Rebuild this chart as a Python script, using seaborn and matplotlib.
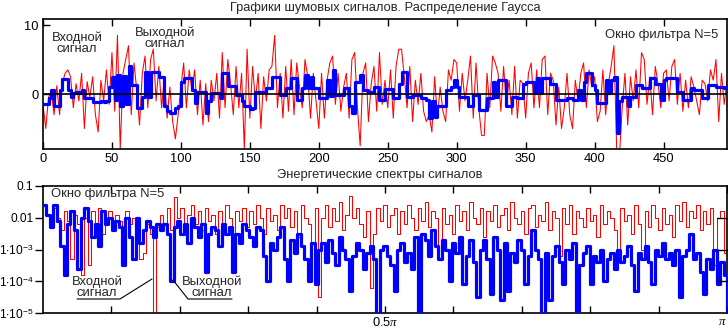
import numpy as np
import matplotlib
matplotlib.use("Agg")
import matplotlib.pyplot as plt
import seaborn as sns
from matplotlib.lines import Line2D
from matplotlib.ticker import NullLocator

# ---------------- data ----------------
# top panel: noisy input signal, one value per 2 samples
input_signal = [
    -1.5, -5.0, -0.5, 0.5, -3.0, 1.2, -3.0, 1.5, 3.0, 3.5,
    2.5, -2.0, 1.5, -1.0, 3.0, -5.0, 1.8, -0.5, 2.5, -3.0,
    -5.5, 2.0, -1.0, 3.5, -1.5, 6.0, -2.5, 8.5, -8.0, 3.0,
    5.0, 7.0, -3.0, 4.5, 0.5, -4.5, 3.0, 5.5, -2.0, 5.0,
    6.5, -1.0, 4.0, -2.0, 2.5, -3.5, 1.0, -4.0, -6.5, -3.0,
    1.0, 4.5, -2.0, 3.5, 0.5, 3.5, -3.0, 2.0, -4.5, 1.5,
    -4.0, 2.0, -1.0, 3.0, -3.5, 6.0, -2.0, 5.0, 1.5, -3.0,
    4.0, -2.0, 3.0, -8.0, 6.5, -3.5, 4.0, -1.0, 3.0, -5.0,
    2.5, -1.0, 3.5, 4.0, 8.5, -2.0, 3.0, -3.5, 4.0, -2.5,
    5.0, -3.0, 4.5, 1.0, -2.0, 5.0, 2.5, -3.5, 3.0, -1.0,
    -5.0, 3.0, -3.5, 2.0, 4.5, 5.5, -1.5, 3.0, -2.5, 1.0,
    3.0, -3.5, 5.0, 6.0, -2.0, -7.5, 3.0, 4.5, -4.0, 1.5,
    4.0, -2.5, 6.0, -1.5, 2.0, -2.0, 3.5, -3.5, 4.0, 6.5,
    6.5, 2.5, -2.0, 4.0, -4.0, 2.0, -1.5, 3.0, -2.5, -4.0,
    -3.0, -5.5, 2.5, -3.5, 1.0, -2.5, -4.0, 3.5, 2.0, 5.0,
    4.5, -2.5, 3.0, -1.0, 2.0, 5.5, -3.5, 4.5, -2.0, -6.0,
    -6.0, 3.0, -2.0, 5.5, 4.5, 3.0, -2.5, 4.0, -1.5, 2.0,
    -3.0, 4.0, -3.5, 2.0, 1.5, -3.5, 3.0, 4.5, -2.0, 3.5,
    -2.0, 5.0, 5.5, -3.0, 3.0, 2.0, -4.5, 1.0, -5.0, -2.0,
    3.0, -3.0, -5.0, 2.0, -1.0, 3.0, 4.5, -2.0, 3.5, 1.0,
    2.5, -4.0, -2.5, 3.5, -3.0, 1.5, 4.0, 7.0, -8.0, -9.0,
    -2.0, 3.0, -4.5, 2.5, -1.0, 3.5, -2.0, 6.0, 5.0, -1.5,
    2.5, -3.0, 4.0, 1.5, -2.0, 3.0, 3.5, -1.0, 4.0, 5.0,
    -1.5, 3.0, -2.5, 2.0, -2.0, 2.5, 1.0, -1.0, -3.0, 2.0,
    1.5, -1.0, 3.5, 2.0, 5.0, -4.0, 3.0, -1.5, 2.0, 1.0,
]
# top panel: filtered output signal, one value per 2 samples
output_signal = [
    -1.4, -1.4, -0.6, 0.6, -1.7, -1.7, 0.6, 2.2, 2.2, 0.6,
    -0.4, 0.2, 0.3, 0.2, 0.6, -0.6, -0.6, -0.6, -1.1, -1.2,
    -1.1, -1.0, -1.1, -1.0, 1.0, 2.5, -0.9, 2.7, -1.8, 2.6,
    -1.5, 4.0, 1.3, 1.3, -2.1, -2.1, -0.4, 3.2, -0.4, 3.2,
    3.2, 3.2, 2.4, 2.4, -1.8, -2.5, -2.8, -2.8, -2.0, -1.8,
    1.8, 2.3, 2.3, 2.3, 0.6, -1.35, 0.3, 0.3, 0.3, -2.8,
    -1.0, 0.1, 0.1, 0.1, -0.6, 3.0, 3.0, 1.1, 1.1, 1.1,
    -0.15, -0.15, -1.0, -1.8, -1.8, -2.2, -2.0, 0.3, 0.3, 0.3,
    0.3, 0.8, 0.8, 2.5, 2.5, 2.5, -0.15, -0.15, 0.8, 0.8,
    2.3, 2.3, -0.9, -0.9, 0.8, 2.7, 0.8, 2.5, 0.8, 0.8,
    -0.6, -0.6, -0.6, 2.0, -0.3, 3.5, -0.15, -0.15, -0.15, 0.8,
    0.8, -1.8, -2.8, 1.8, 1.8, 2.7, 0.6, 0.6, 0.3, 0.3,
    1.0, 1.0, -0.9, -0.9, 0.7, 0.7, 0.7, -0.6, -0.6, 1.5,
    3.2, 3.2, -0.4, -0.4, -0.15, -0.15, -0.15, -0.6, -0.6, -0.9,
    -3.5, -1.0, -3.3, -1.8, -1.8, -1.8, 0.6, 0.6, 1.0, 2.0,
    1.0, -0.4, -0.4, -0.4, -1.8, -1.8, -0.15, -0.15, -2.3, -2.3,
    -2.3, -0.6, -0.6, 1.8, -0.4, 2.0, 2.0, 2.0, -1.8, -1.8,
    -0.4, -0.4, -0.6, -0.6, 1.5, 1.8, 1.8, 1.8, 0.1, 2.3,
    0.1, 2.3, 2.3, 2.3, 1.5, 1.5, -0.9, -0.9, -0.9, -0.9,
    -0.6, -0.6, -0.9, -0.9, 0.6, -0.9, 1.8, 3.0, 3.0, 1.3,
    0.6, -1.35, -1.35, -1.35, 2.0, 0.1, 2.0, 2.5, -5.7, -1.0,
    -0.4, -0.4, -1.8, -0.4, -0.4, 1.3, 1.3, 0.8, 0.8, 0.8,
    2.3, 2.3, 1.5, 1.5, -0.9, 2.0, 2.3, 2.3, 2.3, 2.3,
    0.3, 0.3, -0.9, -0.9, -0.9, 0.8, 0.6, 0.6, 0.6, -0.6,
    -0.6, 1.3, 1.3, 1.3, 1.0, 1.0, 1.0, 0.8, 0.8, 0.8,
]
# bottom panel: energy spectra, log10 of the values
input_spectrum_log10 = [
    -1.6, -1.9, -2.2, -1.7, -2.0, -2.4, -1.8, -2.1, -3.3, -1.9,
    -2.2, -3.8, -2.0, -3.5, -1.8, -2.3, -1.7, -2.5, -2.0, -1.8,
    -2.4, -1.9, -2.1, -2.6, -1.8, -2.2, -2.0, -2.7, -3.3, -3.1,
    -2.2, -2.5, -5.0, -2.3, -1.9, -2.2, -1.7, -2.4, -1.35, -2.0,
    -1.7, -2.3, -1.9, -1.6, -2.2, -1.8, -2.4, -1.7, -2.1, -1.9,
    -2.5, -1.8, -2.2, -1.6, -2.0, -2.6, -1.8, -2.1, -1.7, -2.3,
    -1.8, -2.2, -1.6, -2.0, -2.5, -1.7, -2.1, -1.9, -2.4, -1.6,
    -2.0, -1.7, -2.3, -1.8, -2.6, -1.6, -2.0, -2.2, -2.8, -1.7,
    -4.5, -2.0, -1.6, -2.3, -1.7, -2.1, -1.5, -2.4, -1.9, -1.3,
    -2.0, -1.7, -2.2, -2.6, -1.8, -4.2, -2.5, -1.7, -2.1, -1.6,
    -2.3, -1.9, -1.7, -2.5, -1.8, -2.2, -1.6, -2.0, -2.4, -1.7,
    -2.1, -1.5, -2.3, -1.8, -2.0, -3.3, -1.7, -2.2, -1.9, -2.5,
    -1.6, -2.1, -1.8, -2.4, -1.5, -2.0, -2.2, -1.7, -2.6, -1.8,
    -2.1, -1.6, -2.3, -1.9, -1.7, -2.4, -1.5, -2.0, -2.2, -1.8,
    -2.5, -1.7, -1.6, -2.3, -1.9, -2.1, -1.5, -2.4, -1.8, -2.0,
    -3.2, -1.7, -2.2, -1.6, -2.5, -1.8, -2.0, -2.3, -1.7, -2.1,
    -1.9, -2.6, -1.6, -2.2, -1.8, -2.0, -2.4, -3.2, -1.7, -2.1,
    -1.9, -2.5, -1.6, -2.2, -3.0, -1.8, -2.3, -1.6, -2.0, -2.4,
    -1.7, -2.2, -1.9, -2.6, -1.6, -2.1, -1.5, -2.3, -1.8, -2.0,
    -1.6, -2.4, -1.8, -2.2, -1.7, -3.5, -2.0, -1.8, -3.1, -2.0,
]
output_spectrum_log10 = [
    -1.6, -1.9, -2.3, -1.6, -2.1, -2.9, -3.8, -2.2, -1.8, -2.4,
    -3.6, -2.0, -1.7, -2.1, -2.6, -2.2, -2.9, -1.8, -2.2, -2.0,
    -2.4, -2.1, -2.3, -3.5, -2.0, -2.6, -3.3, -2.0, -2.8, -2.4,
    -2.1, -2.3, -2.6, -2.2, -2.4, -2.2, -2.5, -4.0, -2.3, -2.1,
    -2.5, -2.2, -2.8, -2.0, -2.3, -2.6, -2.2, -3.7, -2.5, -2.3,
    -2.4, -2.9, -2.2, -2.5, -2.3, -3.7, -2.5, -2.8, -2.2, -2.4,
    -2.6, -2.9, -2.3, -2.4, -3.2, -4.0, -2.8, -3.0, -2.6, -2.3,
    -3.3, -4.0, -2.7, -3.1, -2.5, -2.9, -3.3, -4.0, -2.8, -4.1,
    -3.0, -2.8, -3.4, -2.7, -3.1, -3.5, -2.6, -3.0, -3.3, -4.3,
    -3.2, -2.8, -3.0, -3.6, -3.1, -2.9, -3.3, -5.0, -3.0, -2.9,
    -3.2, -3.5, -4.3, -3.0, -2.8, -3.4, -3.1, -3.6, -2.6, -5.0,
    -2.5, -2.7, -3.2, -2.4, -2.9, -3.3, -2.7, -3.0, -4.0, -2.8,
    -3.1, -2.6, -4.1, -3.2, -2.7, -3.4, -4.5, -3.0, -2.7, -3.3,
    -4.4, -2.6, -3.0, -4.6, -2.8, -4.3, -3.1, -3.4, -2.7, -3.0,
    -4.1, -3.2, -2.4, -3.0, -3.3, -5.0, -3.1, -4.6, -3.2, -2.9,
    -3.4, -4.1, -3.0, -3.3, -2.8, -5.0, -3.5, -3.1, -2.9, -4.1,
    -3.2, -3.4, -3.0, -4.0, -3.3, -3.1, -3.6, -3.0, -3.4, -3.2,
    -2.9, -3.5, -4.3, -3.1, -3.3, -2.9, -3.4, -4.1, -3.0, -3.2,
    -2.8, -3.3, -3.1, -3.5, -3.0, -4.5, -3.2, -3.0, -2.5, -3.3,
    -3.1, -3.7, -4.4, -3.3, -3.6, -3.0, -4.1, -3.4, -3.8, -5.05,
]
top_xticks = [0, 50, 100, 150, 200, 250, 300, 350, 400, 450]
top_yticks = [0, 10]
spec_yticks = [1e-5, 1e-4, 1e-3, 1e-2, 1e-1]
spec_yticklabels = [r"$1{\cdot}10^{-5}$", r"$1{\cdot}10^{-4}$", r"$1{\cdot}10^{-3}$", "0.01", "0.1"]

# ---------------- figure ----------------
sns.set_style("white")
plt.rcParams['font.family'] = ['Liberation Sans', 'DejaVu Sans']
plt.rcParams['mathtext.fontset'] = 'custom'
plt.rcParams['mathtext.rm'] = 'Liberation Sans'
plt.rcParams['mathtext.it'] = 'Liberation Serif:italic'

W, H = 728, 331
fig = plt.figure(figsize=(W / 100, H / 100), dpi=100)
fig.patch.set_facecolor('white')


def rect(l, t, r, b):
    return [l / W, 1 - b / H, (r - l) / W, (b - t) / H]


def fx(px):
    return px / W


def fy(py):
    return 1 - py / H


ax1 = fig.add_axes(rect(43, 19, 727, 149))
ax2 = fig.add_axes(rect(43, 186, 727, 313))

RED = '#ff0000'
BLUE = '#0000ff'
TICK_FS = 9.3
ANN_FS = 9.4

# top panel
sns.lineplot(x=np.arange(len(input_signal)) * 2, y=input_signal, ax=ax1, color=RED,
             linewidth=0.75, estimator=None, sort=False, zorder=2)
sns.lineplot(x=np.arange(len(output_signal)) * 2, y=output_signal, ax=ax1,
             color=BLUE, linewidth=2.3, drawstyle='steps-post',
             estimator=None, sort=False, zorder=3)
ax1.axhline(0, color='black', linewidth=1.2, zorder=4)
ax1.set_xlim(0, 496)
ax1.set_ylim(-7.97, 10.87)
ax1.set_xticks(top_xticks)
ax1.set_yticks(top_yticks)
ax1.set_xticklabels([str(t) for t in top_xticks])
ax1.set_yticklabels([str(t) for t in top_yticks])
ax1.tick_params(direction='in', length=5, width=1, top=True, bottom=True,
                left=True, right=False, labelsize=TICK_FS, pad=3, colors='black')

# bottom panel
x_in = np.linspace(0, np.pi, len(input_spectrum_log10))
x_out = np.linspace(0, np.pi, len(output_spectrum_log10))
sns.lineplot(x=x_in, y=10 ** np.array(input_spectrum_log10), ax=ax2, color=RED,
             linewidth=0.75, drawstyle='steps-post', estimator=None, sort=False, zorder=2)
sns.lineplot(x=x_out, y=10 ** np.array(output_spectrum_log10), ax=ax2, color=BLUE,
             linewidth=2.3, drawstyle='steps-post', estimator=None, sort=False, zorder=3)
ax2.set_yscale('log')
ax2.set_ylim(1e-5, 0.1)
ax2.set_xlim(0, np.pi)
xt = [k * np.pi / 10 for k in range(1, 11)]
ax2.set_xticks(xt)
ax2.set_xticklabels(['' if k not in (5, 10) else (r"0.5$\pi$" if k == 5 else r"$\pi$")
                     for k in range(1, 11)])
ax2.get_xticklabels()[-1].set_horizontalalignment('right')
ax2.set_yticks(spec_yticks)
ax2.set_yticklabels(spec_yticklabels)
ax2.yaxis.set_minor_locator(NullLocator())
ax2.tick_params(axis='x', direction='in', length=5, width=1, top=True, bottom=True,
                labelsize=TICK_FS, pad=2, colors='black')
ax2.tick_params(axis='y', which='major', direction='out', length=6, width=1, left=True,
                right=False, labelsize=8.6, pad=1.0, colors='black')
# inward ticks on the right edge at the decades
for yv in spec_yticks[1:-1]:
    ax2.plot([0.985, 1.0], [yv, yv], color='black', linewidth=1,
             transform=ax2.get_yaxis_transform(), clip_on=False, zorder=5)

for ax in (ax1, ax2):
    ax.set_xlabel('')
    ax.set_ylabel('')
    for s in ax.spines.values():
        s.set_color('black')
        s.set_linewidth(1.2)
        s.set_visible(True)
    ax.grid(False)
    ax.set_facecolor('white')

# titles
fig.text(fx(385), fy(8), "Графики шумовых сигналов. Распределение Гаусса",
         ha='center', va='center', fontsize=9.3)
fig.text(fx(380), fy(175), "Энергетические спектры сигналов",
         ha='center', va='center', fontsize=9.3)

# top annotations
fig.text(fx(77), fy(43), "Входной\nсигнал", ha='center', va='center',
         fontsize=ANN_FS, linespacing=0.85, zorder=10)
fig.text(fx(165), fy(38), "Выходной\nсигнал", ha='center', va='center',
         fontsize=ANN_FS, linespacing=0.85, zorder=10)
fig.text(fx(662), fy(35), "Окно фильтра N=5", ha='center', va='center',
         fontsize=ANN_FS, zorder=10)

# bottom annotations
fig.text(fx(108), fy(194), "Окно фильтра N=5", ha='center', va='center',
         fontsize=ANN_FS, zorder=10)
fig.text(fx(97), fy(287), "Входной\nсигнал", ha='center', va='center',
         fontsize=ANN_FS, linespacing=0.85, zorder=10)
fig.text(fx(212), fy(287), "Выходной\nсигнал", ha='center', va='center',
         fontsize=ANN_FS, linespacing=0.85, zorder=10)
fig.add_artist(Line2D([fx(77), fx(120), fx(152)], [fy(299), fy(299), fy(279)],
                      color='black', linewidth=0.8, zorder=10))
fig.add_artist(Line2D([fx(232), fx(188), fx(173)], [fy(299), fy(299), fy(280)],
                      color='black', linewidth=0.8, zorder=10))

fig.savefig('out.png', dpi=100, facecolor='white')
